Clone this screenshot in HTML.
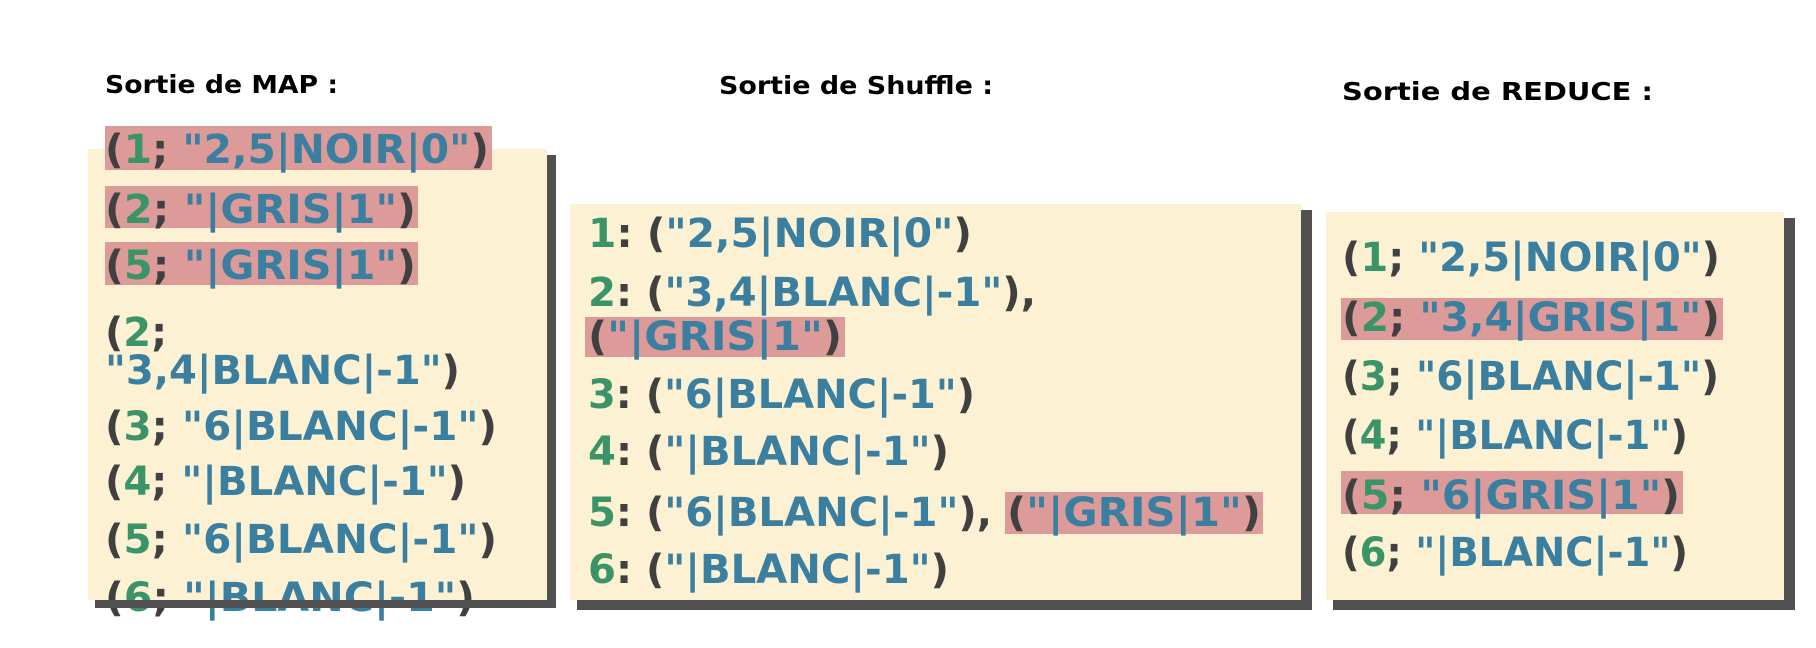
<!DOCTYPE html>
<html><head><meta charset="utf-8"><style>
html,body{margin:0;padding:0;background:#fff;}
svg{display:block;}
.t{font-family:"DejaVu Sans","Liberation Sans",sans-serif;font-weight:bold;font-size:25px;fill:#000;}
.m{font-family:"DejaVu Sans","Liberation Sans",sans-serif;font-weight:bold;font-size:40px;fill:#404040;}
.c{font-family:"DejaVu Sans Condensed","DejaVu Sans","Liberation Sans Narrow",sans-serif;font-stretch:condensed;font-weight:bold;font-size:40px;fill:#404040;}
.g{fill:#3a9468;}
.b{fill:#3a7fa0;}
</style></head><body>
<svg width="1816" height="648" viewBox="0 0 1816 648" xmlns="http://www.w3.org/2000/svg">
<text class="t" x="105" y="93" textLength="233" lengthAdjust="spacingAndGlyphs">Sortie de MAP :</text>
<text class="t" x="719" y="94" textLength="274" lengthAdjust="spacingAndGlyphs">Sortie de Shuffle :</text>
<text class="t" x="1342" y="100" textLength="311" lengthAdjust="spacingAndGlyphs">Sortie de REDUCE :</text>

<!-- MAP box -->
<rect x="95" y="155" width="461" height="453" fill="#505050"/>
<rect x="88" y="149" width="459" height="451" fill="#fcf1d2"/>
<rect x="105" y="126" width="387" height="44" fill="#dc9a98"/>
<rect x="105" y="186" width="313" height="42" fill="#dc9a98"/>
<rect x="105" y="242" width="313" height="43" fill="#dc9a98"/>
<text class="m" x="105" y="163" textLength="384" lengthAdjust="spacingAndGlyphs">(<tspan class="g">1</tspan>; <tspan class="b">"2,5|NOIR|0"</tspan>)</text>
<text class="m" x="105" y="223" textLength="311" lengthAdjust="spacingAndGlyphs">(<tspan class="g">2</tspan>; <tspan class="b">"|GRIS|1"</tspan>)</text>
<text class="m" x="105" y="279" textLength="311" lengthAdjust="spacingAndGlyphs">(<tspan class="g">5</tspan>; <tspan class="b">"|GRIS|1"</tspan>)</text>
<text class="m" x="105" y="346">(<tspan class="g">2</tspan>;</text>
<text class="m" x="105" y="384" textLength="355" lengthAdjust="spacingAndGlyphs"><tspan class="b">"3,4|BLANC|-1"</tspan>)</text>
<text class="m" x="105" y="440" textLength="392" lengthAdjust="spacingAndGlyphs">(<tspan class="g">3</tspan>; <tspan class="b">"6|BLANC|-1"</tspan>)</text>
<text class="m" x="105" y="495" textLength="361" lengthAdjust="spacingAndGlyphs">(<tspan class="g">4</tspan>; <tspan class="b">"|BLANC|-1"</tspan>)</text>
<text class="m" x="105" y="553" textLength="392" lengthAdjust="spacingAndGlyphs">(<tspan class="g">5</tspan>; <tspan class="b">"6|BLANC|-1"</tspan>)</text>
<text class="m" x="105" y="611" textLength="370" lengthAdjust="spacingAndGlyphs">(<tspan class="g">6</tspan>; <tspan class="b">"|BLANC|-1"</tspan>)</text>
<rect x="95" y="600" width="461" height="8" fill="#505050"/>

<!-- Shuffle box -->
<rect x="577" y="210" width="735" height="400" fill="#505050"/>
<rect x="570" y="204" width="731" height="396" fill="#fcf1d2"/>
<rect x="585" y="317" width="260" height="40" fill="#dc9a98"/>
<rect x="1005" y="492" width="258" height="42" fill="#dc9a98"/>
<text class="c" x="588" y="247" textLength="384" lengthAdjust="spacingAndGlyphs"><tspan class="g">1</tspan>: (<tspan class="b">"2,5|NOIR|0"</tspan>)</text>
<text class="c" x="588" y="306" textLength="448" lengthAdjust="spacingAndGlyphs"><tspan class="g">2</tspan>: (<tspan class="b">"3,4|BLANC|-1"</tspan>),</text>
<text class="c" x="588" y="350" textLength="254" lengthAdjust="spacingAndGlyphs">(<tspan class="b">"|GRIS|1"</tspan>)</text>
<text class="c" x="588" y="408" textLength="387" lengthAdjust="spacingAndGlyphs"><tspan class="g">3</tspan>: (<tspan class="b">"6|BLANC|-1"</tspan>)</text>
<text class="c" x="588" y="465" textLength="361" lengthAdjust="spacingAndGlyphs"><tspan class="g">4</tspan>: (<tspan class="b">"|BLANC|-1"</tspan>)</text>
<text class="c" x="588" y="526" textLength="404" lengthAdjust="spacingAndGlyphs"><tspan class="g">5</tspan>: (<tspan class="b">"6|BLANC|-1"</tspan>),</text>
<text class="c" x="1007" y="526" textLength="254" lengthAdjust="spacingAndGlyphs">(<tspan class="b">"|GRIS|1"</tspan>)</text>
<text class="c" x="588" y="583" textLength="361" lengthAdjust="spacingAndGlyphs"><tspan class="g">6</tspan>: (<tspan class="b">"|BLANC|-1"</tspan>)</text>

<!-- REDUCE box -->
<rect x="1333" y="218" width="462" height="392" fill="#505050"/>
<rect x="1326" y="212" width="458" height="388" fill="#fcf1d2"/>
<rect x="1341" y="298" width="382" height="42" fill="#dc9a98"/>
<rect x="1341" y="471" width="342" height="43" fill="#dc9a98"/>
<text class="m" x="1342" y="271" textLength="378" lengthAdjust="spacingAndGlyphs">(<tspan class="g">1</tspan>; <tspan class="b">"2,5|NOIR|0"</tspan>)</text>
<text class="m" x="1342" y="331" textLength="378" lengthAdjust="spacingAndGlyphs">(<tspan class="g">2</tspan>; <tspan class="b">"3,4|GRIS|1"</tspan>)</text>
<text class="m" x="1342" y="390" textLength="377" lengthAdjust="spacingAndGlyphs">(<tspan class="g">3</tspan>; <tspan class="b">"6|BLANC|-1"</tspan>)</text>
<text class="m" x="1342" y="449" textLength="346" lengthAdjust="spacingAndGlyphs">(<tspan class="g">4</tspan>; <tspan class="b">"|BLANC|-1"</tspan>)</text>
<text class="m" x="1342" y="509" textLength="338" lengthAdjust="spacingAndGlyphs">(<tspan class="g">5</tspan>; <tspan class="b">"6|GRIS|1"</tspan>)</text>
<text class="m" x="1342" y="566" textLength="346" lengthAdjust="spacingAndGlyphs">(<tspan class="g">6</tspan>; <tspan class="b">"|BLANC|-1"</tspan>)</text>
</svg>
</body></html>
